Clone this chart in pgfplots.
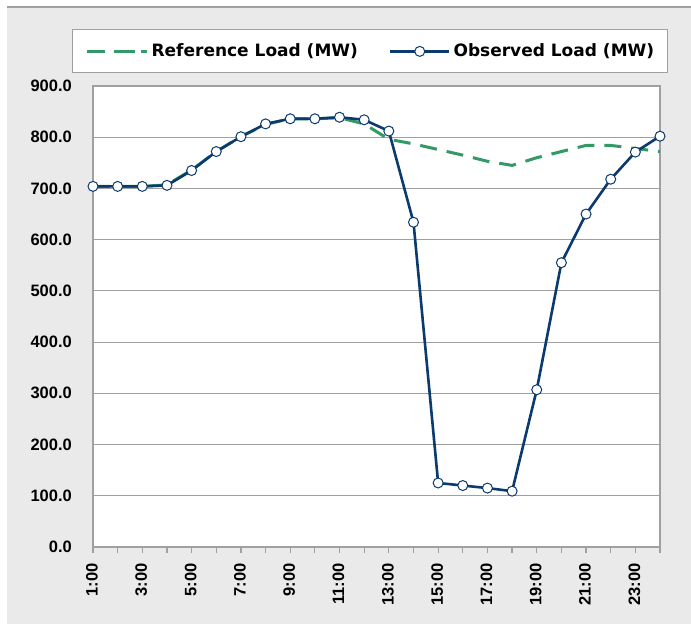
\documentclass[border=0pt]{standalone}
\usepackage{fontspec}
\setmainfont{Liberation Sans}
\newfontfamily\legfont{DejaVu Sans}
\usepackage{pgfplots}
\pgfplotsset{compat=1.18}
\definecolor{navy}{HTML}{0A3A6E}
\definecolor{refgreen}{HTML}{339966}
\definecolor{bggray}{HTML}{EAEAEA}
\definecolor{gridgray}{HTML}{A0A0A0}
\pgfplotsset{
  refleg/.style={legend image code/.code={\draw[##1, dash pattern=on 18bp off 12bp] (0bp,0bp) -- (48bp,0bp); \path (0bp,0bp) -- (60bp,0bp);}},
  obsleg/.style={legend image code/.code={\draw[mark repeat=2, mark phase=2, ##1] plot coordinates {(0bp,0bp) (29.5bp,0bp) (59bp,0bp)};}},
}
\begin{document}
\begin{tikzpicture}[x=1bp,y=1bp]
\fill[white] (0,0) rectangle (691,624);
\useasboundingbox (0,0) rectangle (691,624);
\fill[bggray] (7,0) rectangle (691,617);
\draw[gridgray, line width=1.2bp] (7,617) -- (691,617);
\begin{axis}[
  at={(93bp,77bp)}, anchor=south west,
  scale only axis, width=567bp, height=461bp,
  xmin=1, xmax=24, ymin=0, ymax=900,
  clip=false,
  axis background/.style={fill=white},
  axis line style={gridgray, line width=1.2bp},
  xtick={1,3,...,23},
  xticklabels={1:00,3:00,5:00,7:00,9:00,11:00,13:00,15:00,17:00,19:00,21:00,23:00},
  minor xtick={2,4,...,24},
  xtick pos=bottom,
  tick align=outside,
  major tick length=6bp, minor tick length=6bp,
  xtick style={gridgray, line width=1.2bp},
  minor tick style={gridgray, line width=1.2bp},
  ytick={0,100,...,900},
  ytick style={draw=none},
  ymajorgrids,
  grid style={gridgray, line width=1.2bp},
  y tick label style={/pgf/number format/.cd, fixed, fixed zerofill, precision=1, assume math mode=true, /tikz/.cd,
    font=\fontsize{16.5bp}{18bp}\selectfont\bfseries, inner sep=0pt, xshift=-15bp},
  x tick label style={rotate=90, anchor=east, font=\fontsize{16.5bp}{18bp}\selectfont\bfseries, inner sep=0pt, xshift=-10bp, yshift=1bp},
  legend columns=2,
  legend style={at={(axis description cs:-0.03704,1.123)}, anchor=north west,
    draw=gridgray, line width=1.2bp, fill=white, inner xsep=13bp, inner ysep=13.5bp,
    font=\legfont\bfseries\fontsize{17bp}{20bp}\selectfont,
    nodes={inner sep=0pt, text height=13bp, text depth=3bp},
    /tikz/every odd column/.append style={column sep=3bp},
    /tikz/every even column/.append style={column sep=31bp}},
]
\addplot[refgreen, line width=3bp, dash pattern=on 17bp off 10bp, refleg]
  coordinates {(1,704) (2,704) (3,704) (4,707) (5,736) (6,772) (7,801) (8,825) (9,836) (10,836) (11,838) (12,826)
  (13,796) (14,787) (15,776) (16,765) (17,753) (18,745) (19,760) (20,772) (21,784) (22,784) (23,778) (24,772)};
\addlegendentry{Reference Load (MW)}
\addplot[navy, line width=2.6bp, mark=*, mark size=5bp, mark options={fill=white, draw=navy, line width=1bp, solid}, obsleg]
  coordinates {(1,704) (2,704) (3,704) (4,706) (5,735) (6,772) (7,801) (8,826) (9,836) (10,836) (11,839) (12,834)
  (13,812) (14,634) (15,125) (16,120) (17,115) (18,109) (19,307) (20,555) (21,650) (22,718) (23,771) (24,802)};
\addlegendentry{Observed Load (MW)}
\end{axis}
\end{tikzpicture}
\end{document}
